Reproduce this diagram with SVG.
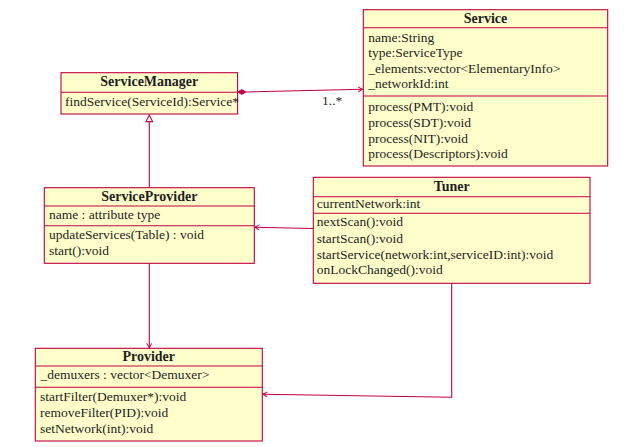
<svg xmlns="http://www.w3.org/2000/svg" width="624" height="447" viewBox="0 0 624 447">
<style>
.box{fill:#ffffcc;stroke:#bf0040;stroke-width:1.1}
.div{stroke:#bf0040;stroke-width:1.1}
.t{font-family:"Liberation Serif","Times New Roman",serif;font-size:13.5px;fill:#1e1e1e}
.h{font-family:"Liberation Serif","Times New Roman",serif;font-size:14px;font-weight:bold;fill:#1e1e1e;text-anchor:middle}
.c{fill:none;stroke:#bf0040;stroke-width:1.1}
</style>
<defs>
<marker id="arr" markerUnits="userSpaceOnUse" markerWidth="8" markerHeight="8" refX="5" refY="3" orient="auto">
<path d="M0.5,0.5 L5,3 L0.5,5.5" fill="none" stroke="#bf0040" stroke-width="1"/>
</marker>
</defs>
<rect width="624" height="447" fill="#ffffff"/>

<g id="connectors">
<line class="c" x1="246" y1="92" x2="362.5" y2="89.3" marker-end="url(#arr)"/>
<polygon points="237.6,92 241.8,89.6 246,92 241.8,94.4" fill="#bf0040" stroke="#bf0040" stroke-width="0.8"/>
<text class="t" x="322" y="105">1..*</text>
<line class="c" x1="149.3" y1="187.7" x2="149.3" y2="121.6"/>
<polygon points="149.3,115 146,121.6 152.6,121.6" fill="#ffffff" stroke="#bf0040" stroke-width="1.1"/>
<line class="c" x1="313.3" y1="228.5" x2="254.8" y2="227.3" marker-end="url(#arr)"/>
<line class="c" x1="149.3" y1="263.3" x2="149.3" y2="347.8" marker-end="url(#arr)"/>
<polyline class="c" points="451.7,283.3 451.7,397.3 262.8,394.3" marker-end="url(#arr)"/>
</g>

<g id="ServiceManager">
<rect class="box" x="61" y="72.7" width="176.6" height="41.3"/>
<line class="div" x1="61" y1="92.3" x2="237.6" y2="92.3"/>
<text class="h" x="149.3" y="86">ServiceManager</text>
<text class="t" x="65" y="105.5">findService(ServiceId):Service*</text>
</g>

<g id="Service">
<rect class="box" x="363.3" y="9.7" width="244.4" height="156.3"/>
<line class="div" x1="363.3" y1="27.7" x2="607.7" y2="27.7"/>
<line class="div" x1="363.3" y1="96" x2="607.7" y2="96"/>
<text class="h" x="485.5" y="22.5">Service</text>
<text class="t" x="368.3" y="41.5">name:String</text>
<text class="t" x="368.3" y="57">type:ServiceType</text>
<text class="t" x="368.3" y="72.5">_elements:vector&lt;ElementaryInfo&gt;</text>
<text class="t" x="368.3" y="88">_networkId:int</text>
<text class="t" x="368.3" y="111.3">process(PMT):void</text>
<text class="t" x="368.3" y="127">process(SDT):void</text>
<text class="t" x="368.3" y="142.7">process(NIT):void</text>
<text class="t" x="368.3" y="158.3">process(Descriptors):void</text>
</g>

<g id="ServiceProvider">
<rect class="box" x="44.3" y="187.7" width="210" height="75.6"/>
<line class="div" x1="44.3" y1="206" x2="254.3" y2="206"/>
<line class="div" x1="44.3" y1="225.7" x2="254.3" y2="225.7"/>
<text class="h" x="149.3" y="201">ServiceProvider</text>
<text class="t" x="49" y="218.5">name : attribute type</text>
<text class="t" x="49" y="239.3">updateServices(Table) : void</text>
<text class="t" x="49" y="255.2">start():void</text>
</g>

<g id="Tuner">
<rect class="box" x="313.3" y="177.3" width="276.7" height="106"/>
<line class="div" x1="313.3" y1="196.7" x2="590" y2="196.7"/>
<line class="div" x1="313.3" y1="213.3" x2="590" y2="213.3"/>
<text class="h" x="451.7" y="190.5">Tuner</text>
<text class="t" x="316.7" y="207.5">currentNetwork:int</text>
<text class="t" x="316.7" y="226.3">nextScan():void</text>
<text class="t" x="316.7" y="242.8">startScan():void</text>
<text class="t" x="316.7" y="258.5">startService(network:int,serviceID:int):void</text>
<text class="t" x="316.7" y="274.2">onLockChanged():void</text>
</g>

<g id="Provider">
<rect class="box" x="35.3" y="348.3" width="227" height="92.7"/>
<line class="div" x1="35.3" y1="366" x2="262.3" y2="366"/>
<line class="div" x1="35.3" y1="387.3" x2="262.3" y2="387.3"/>
<text class="h" x="148.7" y="361">Provider</text>
<text class="t" x="40.5" y="378.5">_demuxers : vector&lt;Demuxer&gt;</text>
<text class="t" x="40" y="401.3">startFilter(Demuxer*):void</text>
<text class="t" x="40" y="416.5">removeFilter(PID):void</text>
<text class="t" x="40" y="432.8">setNetwork(int):void</text>
</g>
</svg>
